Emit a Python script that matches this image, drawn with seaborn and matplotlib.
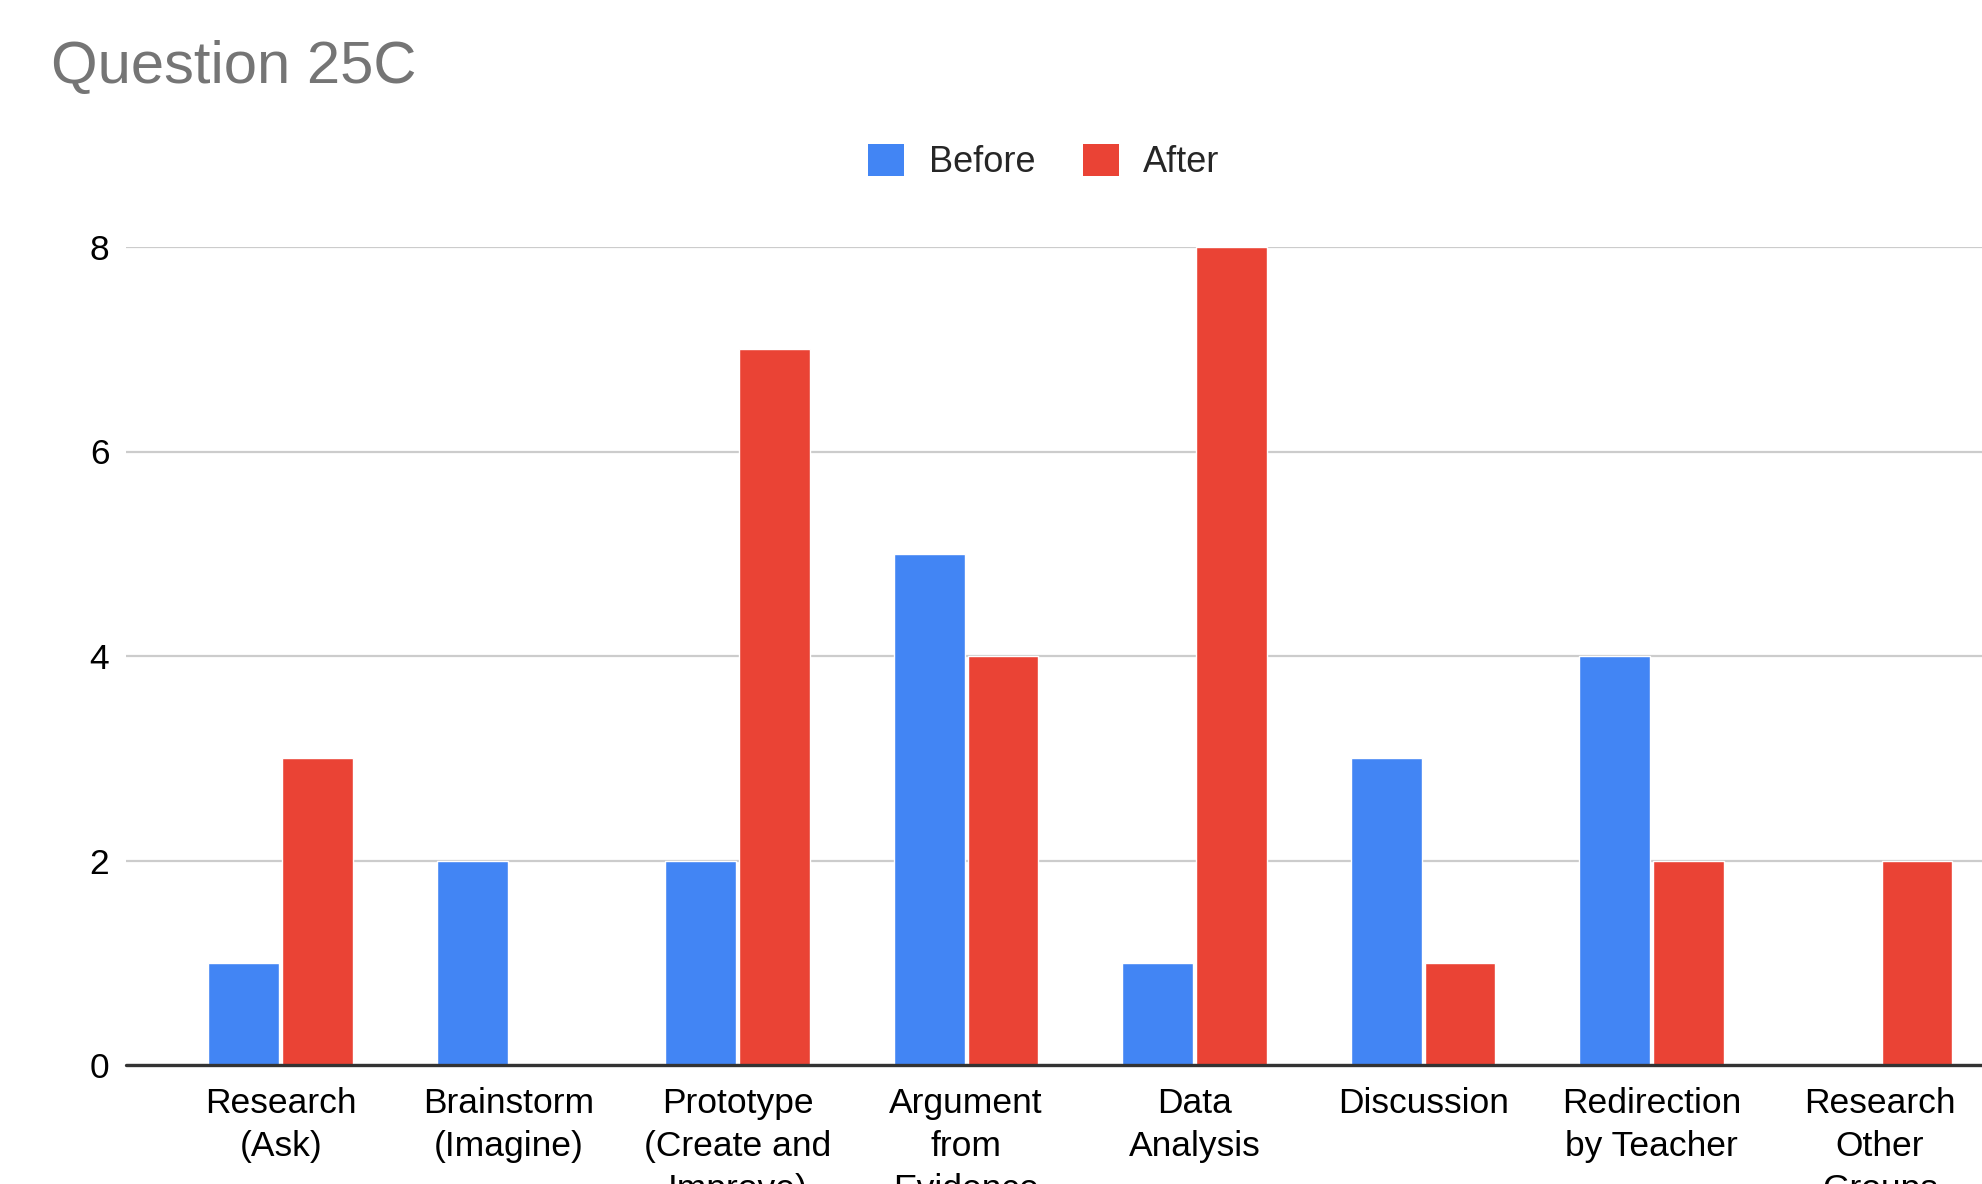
import matplotlib
matplotlib.use("Agg")
import matplotlib.pyplot as plt
import seaborn as sns
import pandas as pd
from matplotlib.patches import Patch

categories = [
    "Research\n(Ask)",
    "Brainstorm\n(Imagine)",
    "Prototype\n(Create and\nImprove)",
    "Argument\nfrom\nEvidence",
    "Data\nAnalysis",
    "Discussion",
    "Redirection\nby Teacher",
    "Research\nOther\nGroups",
]
before = [1, 2, 2, 5, 1, 3, 4, 0]
after = [3, 0, 7, 4, 8, 1, 2, 2]
series_names = ["Before", "After"]
colors = ["#4285F4", "#EA4335"]
y_ticks = [0, 2, 4, 6, 8]

df = pd.DataFrame({
    "category": categories * 2,
    "value": before + after,
    "series": [series_names[0]] * len(categories) + [series_names[1]] * len(categories),
})

sns.set_theme(style="white")
plt.rcParams["font.family"] = ["Liberation Sans", "DejaVu Sans"]

W, H = 1982, 1184
fig = plt.figure(figsize=(W / 100, H / 100), dpi=100)
ax = fig.add_axes([126 / W, 1 - 1065 / H, 1 - 126 / W, (1065 - 247) / H])

sns.barplot(
    data=df, x="category", y="value", hue="series",
    palette=colors, order=categories, hue_order=series_names,
    width=0.645, gap=0.04, saturation=1, legend=False, ax=ax,
)

ax.set_xlim(-0.677, 7.446)
ax.set_ylim(0, 8)
ax.set_yticks(y_ticks)
ax.set_yticklabels([str(t) for t in y_ticks])
ax.set_xlabel("")
ax.set_ylabel("")
for s in ax.spines.values():
    s.set_visible(False)
ax.yaxis.grid(True, color="#cccccc", linewidth=1.6)
ax.set_axisbelow(True)
ax.axhline(0, color="#333333", linewidth=2.4, clip_on=False, zorder=5)
ax.tick_params(axis="both", length=0, labelsize=25.5, colors="#000000")
ax.tick_params(axis="y", pad=12)
ax.tick_params(axis="x", pad=16)
for lbl in ax.get_xticklabels():
    lbl.set_linespacing(1.38)

fig.text(51 / W, 1 - 83 / H, "Question 25C", fontsize=43, color="#757575",
         ha="left", va="baseline")

handles = [Patch(facecolor=c, edgecolor="none") for c in colors]
fig.legend(handles, series_names, loc="center", ncol=2,
           bbox_to_anchor=(1044 / W, 1 - 162 / H), frameon=False,
           fontsize=26, handlelength=1.0, handleheight=1.0,
           handletextpad=0.67, columnspacing=1.33)

fig.savefig("out.png", dpi=100)
